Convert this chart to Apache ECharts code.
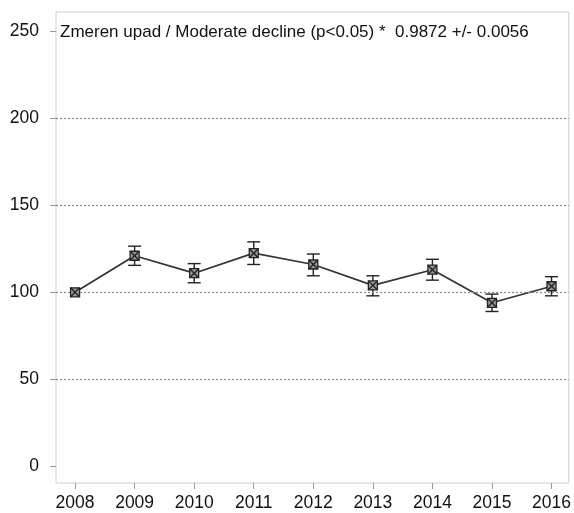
<!DOCTYPE html>
<html><head><meta charset="utf-8">
<script src="https://cdn.jsdelivr.net/npm/echarts@6/dist/echarts.min.js"></script>
<style>html,body{margin:0;padding:0;background:#fff}#c{width:574px;height:513px}</style>
</head><body><div id="c"></div>
<script>
const years = [2008, 2009, 2010, 2011, 2012, 2013, 2014, 2015, 2016];
const index = [100, 121, 111, 122.5, 116, 104, 113, 94, 103.5];
const lower = [100, 115.5, 105.5, 116, 109.5, 98, 107, 89, 98];
const upper = [100, 126.5, 116.5, 129, 122, 109.5, 119, 99, 109];
const yTicks = [0, 50, 100, 150, 200, 250];
const gridLines = [50, 100, 150, 200];
const title = 'Zmeren upad / Moderate decline (p<0.05) *  0.9872 +/- 0.0056';

const chart = echarts.init(document.getElementById('c'), null, {renderer: 'canvas'});
const font = 'Liberation Sans, Arial, sans-serif';
const ink = '#222';
chart.setOption({
  animation: false,
  grid: {left: 56, right: 5, top: 12, bottom: 30, show: true, borderColor: '#cfcfcf', borderWidth: 1},
  graphic: [{type: 'text', left: 60, top: 24, style: {text: title, font: '17px ' + font, fill: '#111'}}],
  xAxis: {
    type: 'value', min: 2007.68, max: 2016.29,
    axisLine: {show: false, onZero: false},
    splitLine: {show: false},
    axisTick: {show: true, customValues: years, length: 6, lineStyle: {color: '#999'}},
    axisLabel: {customValues: years, formatter: v => String(v), color: '#111', fontSize: 17.5, fontFamily: font, margin: 11}
  },
  yAxis: {
    type: 'value', min: -9.5, max: 261,
    axisLine: {show: false, onZero: false},
    splitLine: {show: false},
    axisTick: {show: true, customValues: yTicks, length: 6, lineStyle: {color: '#999'}},
    axisLabel: {customValues: yTicks, color: '#111', fontSize: 17.5, fontFamily: font, margin: 17}
  },
  series: [
    {
      type: 'line', data: years.map((y, i) => [y, index[i]]), symbol: 'none',
      lineStyle: {color: '#333', width: 1.7}, z: 3,
      markLine: {
        silent: true, symbol: 'none', label: {show: false},
        lineStyle: {color: '#888', type: [2, 2], width: 1.2},
        data: gridLines.map(v => ({yAxis: v}))
      }
    },
    {
      type: 'custom', z: 4,
      data: years.map((y, i) => [y, index[i], lower[i], upper[i]]),
      renderItem: function (params, api) {
        const x = api.value(0);
        const c = api.coord([x, api.value(1)]);
        const lo = api.coord([x, api.value(2)]);
        const hi = api.coord([x, api.value(3)]);
        const cap = 6.5, s = 4.5;
        const st = {stroke: ink, lineWidth: 1.4, fill: null};
        const children = [];
        if (Math.abs(lo[1] - hi[1]) > 1) {
          children.push({type: 'line', shape: {x1: c[0], y1: hi[1], x2: c[0], y2: lo[1]}, style: st});
          children.push({type: 'line', shape: {x1: c[0] - cap, y1: hi[1], x2: c[0] + cap, y2: hi[1]}, style: st});
          children.push({type: 'line', shape: {x1: c[0] - cap, y1: lo[1], x2: c[0] + cap, y2: lo[1]}, style: st});
        }
        children.push({type: 'rect', shape: {x: c[0] - s, y: c[1] - s, width: 2 * s, height: 2 * s}, style: {stroke: ink, lineWidth: 1.3, fill: '#999'}});
        children.push({type: 'line', shape: {x1: c[0] - s, y1: c[1] - s, x2: c[0] + s, y2: c[1] + s}, style: st});
        children.push({type: 'line', shape: {x1: c[0] + s, y1: c[1] - s, x2: c[0] - s, y2: c[1] + s}, style: st});
        return {type: 'group', children: children};
      }
    }
  ]
});
</script></body></html>
